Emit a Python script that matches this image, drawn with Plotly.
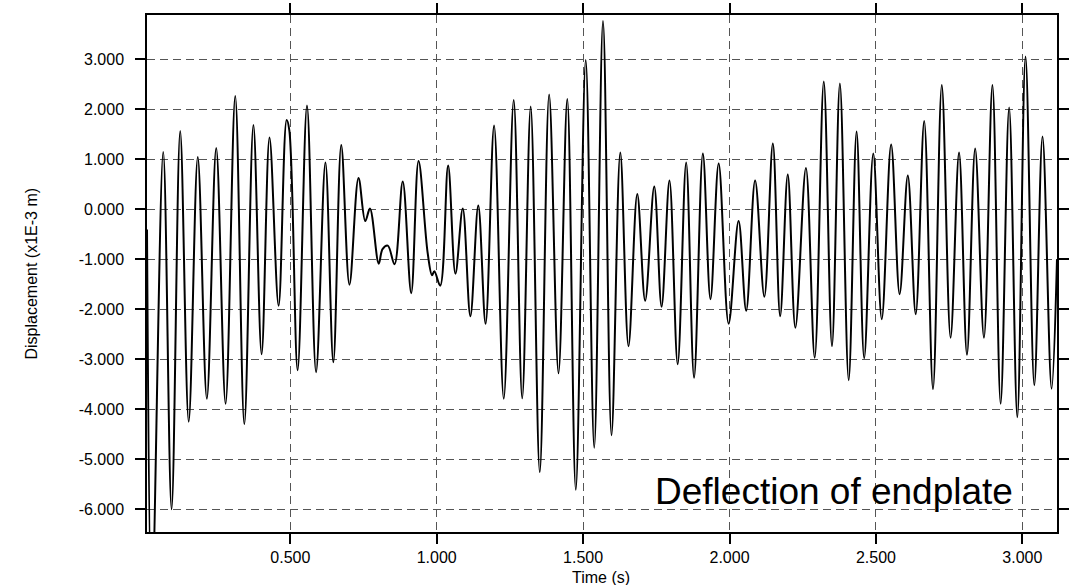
import plotly.graph_objects as go

# Extrema (peaks / troughs)
time_s = [
    0.0106, 0.0270, 0.066, 0.0945, 0.124, 0.153, 0.184, 0.215, 0.247, 0.279,
    0.312, 0.343, 0.374, 0.402, 0.429, 0.460, 0.4875, 0.4966, 0.525, 0.557,
    0.588, 0.620, 0.647, 0.674, 0.702, 0.733, 0.756, 0.772, 0.802, 0.815,
    0.833, 0.856, 0.884, 0.913, 0.938, 0.969, 0.984, 0.992, 1.012, 1.039,
    1.064, 1.089, 1.115, 1.142, 1.167, 1.196, 1.229, 1.263, 1.292, 1.321,
    1.352, 1.384, 1.416, 1.446, 1.475, 1.509, 1.538, 1.568, 1.597, 1.627,
    1.655, 1.685, 1.712, 1.743, 1.768, 1.795, 1.823, 1.852, 1.879, 1.909,
    1.935, 1.963, 1.997, 2.031, 2.057, 2.0875, 2.119, 2.148, 2.173, 2.199,
    2.225, 2.261, 2.291, 2.322, 2.350, 2.377, 2.407, 2.434, 2.460, 2.491,
    2.520, 2.552, 2.581, 2.609, 2.636, 2.665, 2.695, 2.725, 2.755, 2.784,
    2.811, 2.839, 2.869, 2.898, 2.926, 2.955, 2.983, 3.011, 3.041, 3.069,
    3.100, 3.1185,
]
displacement = [
    -0.41, -8.00, 1.14, -6.00, 1.56, -4.25, 1.04, -3.79, 1.22, -3.89,
    2.26, -4.30, 1.68, -2.90, 1.43, -1.93, 1.78, 1.58, -3.22, 2.07,
    -3.26, 0.93, -3.06, 1.28, -1.51, 0.62, -0.24, 0.01, -1.09, -0.80,
    -0.73, -1.10, 0.55, -1.68, 0.96, -0.87, -1.32, -1.24, -1.53, 0.87,
    -1.29, 0.01, -2.14, 0.07, -2.29, 1.67, -3.79, 2.18, -3.78, 2.05,
    -5.26, 2.29, -3.28, 2.20, -5.61, 2.98, -4.77, 3.76, -4.52, 1.13,
    -2.74, 0.30, -1.83, 0.45, -1.95, 0.57, -3.10, 0.93, -3.37, 1.11,
    -1.80, 0.91, -2.29, -0.24, -2.03, 0.57, -1.75, 1.31, -2.14, 0.69,
    -2.37, 0.82, -2.97, 2.55, -2.74, 2.51, -3.42, 1.55, -2.98, 1.11,
    -2.20, 1.29, -1.70, 0.67, -2.10, 1.76, -3.60, 2.48, -2.57, 1.13,
    -2.91, 1.21, -2.57, 2.48, -3.89, 2.03, -4.16, 3.05, -3.52, 1.45,
    -3.59, -1.00,
]

x_tick_vals = [0.5, 1.0, 1.5, 2.0, 2.5, 3.0]
x_tick_labels = ["0.500", "1.000", "1.500", "2.000", "2.500", "3.000"]
y_tick_vals = [3, 2, 1, 0, -1, -2, -3, -4, -5, -6]
y_tick_labels = ["3.000", "2.000", "1.000", "0.000", "-1.000", "-2.000",
                 "-3.000", "-4.000", "-5.000", "-6.000"]

x_title = "Time (s)"
y_title = "Displacement (x1E-3 m)"
label_text = "Deflection of endplate"

FONT = "Arial, 'Liberation Sans', sans-serif"

fig = go.Figure()
fig.add_trace(go.Scatter(
    x=time_s, y=displacement, mode="lines",
    line=dict(color="black", width=2, shape="spline", smoothing=1.0),
    hoverinfo="skip", showlegend=False,
))

axis_common = dict(
    ticks="outside", ticklen=10, tickwidth=1.5, tickcolor="black",
    showline=True, linecolor="black", linewidth=1.5, mirror="ticks",
    showgrid=True, gridcolor="#555555", gridwidth=1, griddash="8px,5px",
    zeroline=False, tickfont=dict(family=FONT, size=16, color="black"),
)

fig.update_layout(
    width=1084, height=585,
    margin=dict(l=147, r=27, t=15, b=53, autoexpand=False),
    paper_bgcolor="white", plot_bgcolor="white",
    xaxis=dict(range=[0.0106, 3.1185], tickvals=x_tick_vals,
               ticktext=x_tick_labels, **axis_common),
    yaxis=dict(range=[-6.454, 3.88], tickvals=y_tick_vals,
               ticktext=y_tick_labels, ticklabelstandoff=8, **axis_common),
    shapes=[dict(type="rect", xref="paper", yref="paper",
                 x0=0.520, x1=0.9905, y0=0.0, y1=0.1446,
                 fillcolor="white", line=dict(width=0), layer="between")],
    annotations=[
        dict(text=label_text, xref="paper", yref="paper", x=0.7552, y=0.0775,
             xanchor="center", yanchor="middle", showarrow=False,
             font=dict(family=FONT, size=37, color="black")),
        dict(text=x_title, xref="paper", yref="paper", x=0.4989, y=0,
             xanchor="center", yanchor="top", yshift=-35, showarrow=False,
             font=dict(family=FONT, size=16, color="black")),
        dict(text=y_title, xref="paper", yref="paper", x=0, y=0.5,
             xanchor="center", yanchor="middle", xshift=-116, textangle=-90,
             showarrow=False, font=dict(family=FONT, size=16, color="black")),
    ],
)

fig.write_html("out.html",
               config={"displayModeBar": False},
               post_script="document.body.style.margin='0px';")
